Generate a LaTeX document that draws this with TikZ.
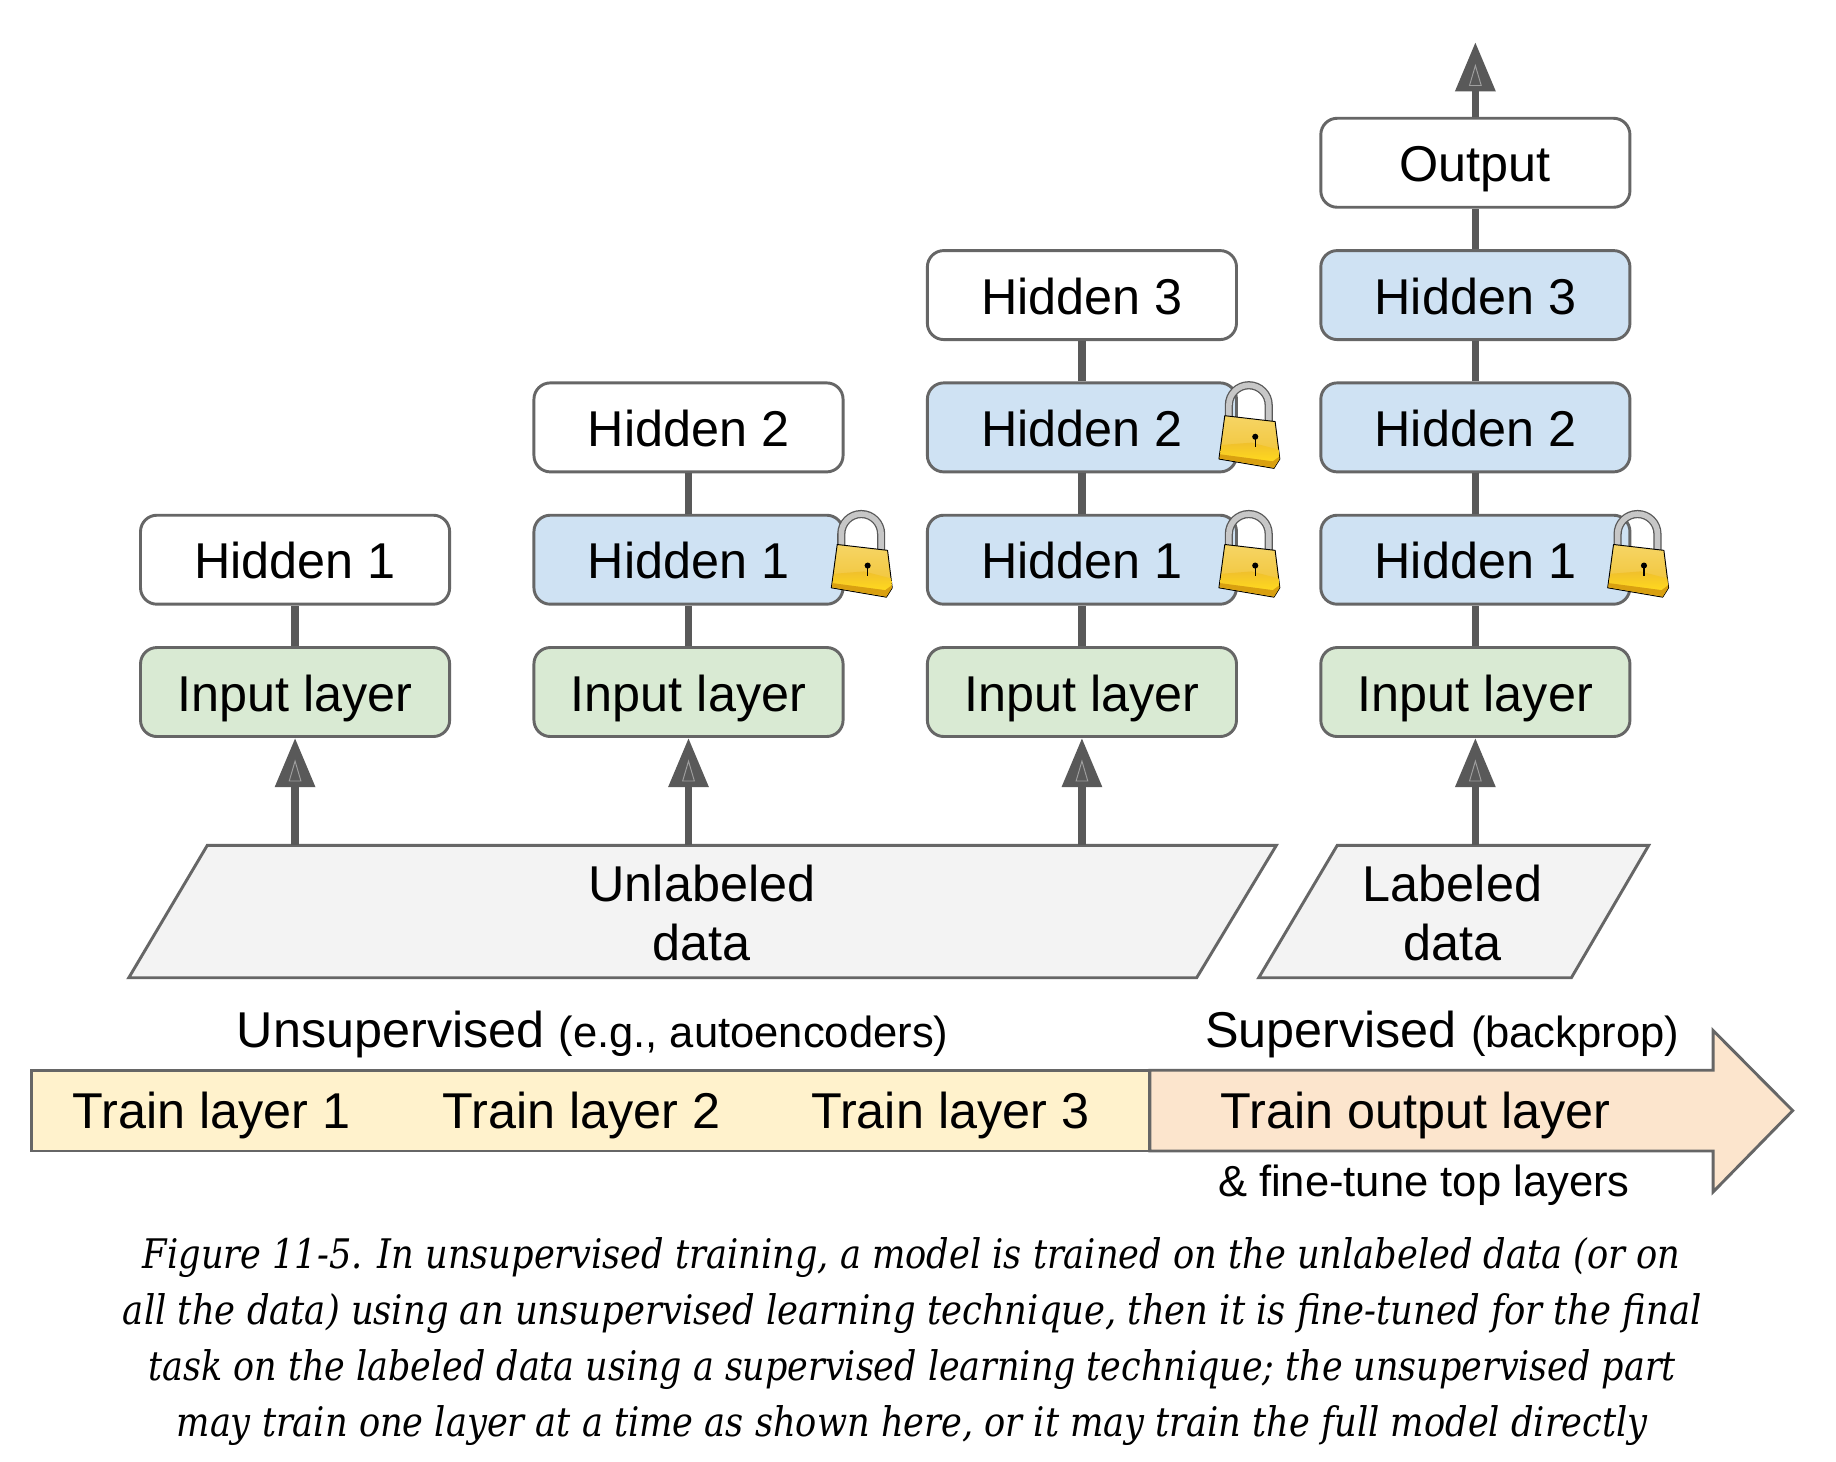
\documentclass[tikz,border=0pt]{standalone}
\usepackage{fontspec}
\usetikzlibrary{arrows.meta}
\setmainfont{Liberation Sans}
\newfontfamily\capfamily[FakeStretch=0.96]{DejaVu Serif Condensed}
\newcommand{\lgfont}{\fontsize{43}{50}\selectfont}
\newcommand{\smfont}{\fontsize{37.2}{50}\selectfont}
\definecolor{edgegray}{HTML}{666666}
\definecolor{linkgray}{HTML}{595959}
\definecolor{hiddenblue}{HTML}{CFE2F3}
\definecolor{inputgreen}{HTML}{D9EAD3}
\definecolor{datagray}{HTML}{F3F3F3}
\definecolor{trainyellow}{HTML}{FFF2CC}
\definecolor{trainorange}{HTML}{FCE5CD}
\definecolor{lockgold}{HTML}{F0C02C}
\definecolor{lockpale}{HTML}{F6D565}
\definecolor{lockbright}{HTML}{FFD91E}
\definecolor{lockdark}{HTML}{D9A010}
\tikzset{
  layerbox/.style={draw=edgegray,line width=2.5pt,rounded corners=14pt,minimum width=264pt,minimum height=76pt,inner sep=0pt,text height=32.5pt,text depth=0pt,font=\lgfont,text=black},
  freshbox/.style={layerbox,fill=white},
  frozenbox/.style={layerbox,fill=hiddenblue},
  inputbox/.style={layerbox,fill=inputgreen},
  datashape/.style={draw=edgegray,line width=2.5pt,fill=datagray,line join=miter},
  datatext/.style={font=\lgfont,align=center,inner sep=0pt,anchor=base},
  barshape/.style={draw=edgegray,line width=2.5pt,line join=miter},
  bartext/.style={font=\lgfont,inner sep=0pt,anchor=base},
  link/.style={draw=linkgray,line width=6.5pt},
  feed/.style={draw=linkgray,line width=6.5pt,-{Triangle[length=42pt,width=33pt]},shorten >=0pt},
  tipmark/.style={draw=gray!75,line width=0.8pt},
  captionline/.style={font=\capfamily\itshape\fontsize{34.8}{40}\selectfont,inner sep=0pt,anchor=base,transform shape},
  lockicon/.pic={
    \draw[draw=black!65,line width=7pt] (8.5,32)--(8.5,20) arc[start angle=180,end angle=360,radius=17] -- (42.5,34);
    \draw[draw=black!22,line width=4.8pt] (8.5,32)--(8.5,20) arc[start angle=180,end angle=360,radius=17] -- (42.5,34);
    \shade[top color=lockpale,bottom color=lockgold,draw=black,line width=0.8pt,line join=round]
      (5,29)--(48,34)--(52,66)--(47,74)--(0,66)--cycle;
    \shade[top color=lockgold,bottom color=lockbright] (2.5,54)--(28,52)--(51,58)--(51.5,64)--(46,68)--(1,62)--cycle;
    \fill[lockdark] (0.5,65.5)--(1,62)--(46,68)--(51.5,64)--(51.7,66)--(47,73.5)--cycle;
    \fill[black] (31,47) circle (2.6pt);
    \draw[black,line width=1pt] (31,47)--(31,56);
  }
}
\begin{document}
\begin{tikzpicture}[x=1pt,y=-1pt]
\useasboundingbox[fill=white] (0,0) rectangle (1568,1248.5);

% column 1
\node[inputbox]  (a1) at (252,591) {Input layer};
\node[freshbox]  (a2) at (252,478) {Hidden 1};
% column 2
\node[inputbox]  (b1) at (588,591) {Input layer};
\node[frozenbox] (b2) at (588,478) {Hidden 1};
\node[freshbox]  (b3) at (588,365) {Hidden 2};
% column 3
\node[inputbox]  (c1) at (924,591) {Input layer};
\node[frozenbox] (c2) at (924,478) {Hidden 1};
\node[frozenbox] (c3) at (924,365) {Hidden 2};
\node[freshbox]  (c4) at (924,252) {Hidden 3};
% column 4
\node[inputbox]  (d1) at (1260,591) {Input layer};
\node[frozenbox] (d2) at (1260,478) {Hidden 1};
\node[frozenbox] (d3) at (1260,365) {Hidden 2};
\node[frozenbox] (d4) at (1260,252) {Hidden 3};
\node[freshbox]  (d5) at (1260,139) {Output};

\draw[link] (a1) -- (a2);
\draw[link] (b1) -- (b2);
\draw[link] (b2) -- (b3);
\draw[link] (c1) -- (c2);
\draw[link] (c2) -- (c3);
\draw[link] (c3) -- (c4);
\draw[link] (d1) -- (d2);
\draw[link] (d2) -- (d3);
\draw[link] (d3) -- (d4);
\draw[link] (d4) -- (d5);

% locks
\pic at (710,436) {lockicon};
\pic at (1041,436) {lockicon};
\pic at (1041,326) {lockicon};
\pic at (1373,436) {lockicon};

% data
\draw[datashape] (177,722) -- (1090,722) -- (1022,835) -- (110,835) -- cycle;
\draw[datashape] (1142,722) -- (1408,722) -- (1342,835) -- (1075,835) -- cycle;
\node[datatext] (ul1) at (599.5,770) {Unlabeled};
\node[datatext] (ul2) at (599.5,820) {data};
\node[datatext] (ld1) at (1240.5,770) {Labeled};
\node[datatext] (ld2) at (1240.5,820) {data};

% arrows
\coordinate (s1) at (252,722);
\coordinate (s2) at (588,722);
\coordinate (s3) at (924,722);
\coordinate (s4) at (1260,722);
\coordinate (top) at (1260,36);
\draw[feed] (s1) -- (a1.south);
\draw[feed] (s2) -- (b1.south);
\draw[feed] (s3) -- (c1.south);
\draw[feed] (s4) -- (d1.south);
\draw[feed] (d5.north) -- (top);
\foreach \mx/\my in {252/630,588/630,924/630,1260/630,1260/36}
  \draw[tipmark] (\mx,\my+20) -- (\mx+5,\my+37) -- (\mx-5,\my+37) -- cycle;

% training bar
\draw[barshape,fill=trainorange] (982,914) -- (1463,914) -- (1463,880) -- (1531,948.5) -- (1463,1018) -- (1463,983) -- (982,983) -- cycle;
\draw[barshape,fill=trainyellow] (27,914) rectangle (982,983);
\node[bartext,anchor=base west] (uns) at (202,895) {Unsupervised {\smfont(e.g., autoencoders)}};
\node[bartext,anchor=base west] (sup) at (1029,895) {Supervised {\smfont(backprop)}};
\node[bartext] (t1) at (180.5,964) {Train layer 1};
\node[bartext] (t2) at (496.5,964) {Train layer 2};
\node[bartext] (t3) at (811.5,964) {Train layer 3};
\node[bartext,anchor=base west] (t4) at (1042,964) {Train output layer};
\node[bartext,anchor=base west,font=\smfont] (t5) at (1040,1022) {\& fine-tune top layers};

% caption
\node[captionline] (cap1) at (778.5,1083) {Figure 11-5. In unsupervised training, a model is trained on the unlabeled data (or on};
\node[captionline,xscale=1.005] (cap2) at (779,1131) {all the data) using an unsupervised learning technique, then it is fine-tuned for the final};
\node[captionline,xscale=0.992] (cap3) at (779,1179) {task on the labeled data using a supervised learning technique; the unsupervised part};
\node[captionline] (cap4) at (779,1227) {may train one layer at a time as shown here, or it may train the full model directly};
\end{tikzpicture}
\end{document}
